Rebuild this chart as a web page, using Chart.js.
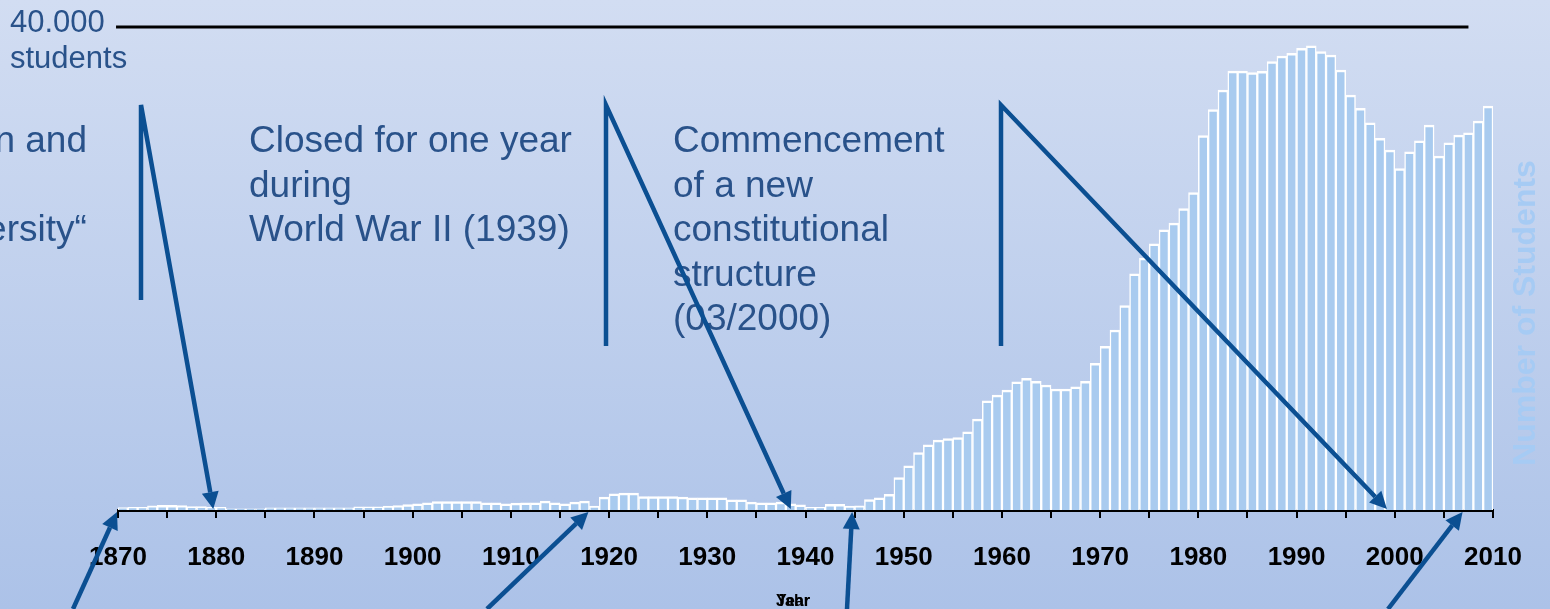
<!DOCTYPE html>
<html>
<head>
<meta charset="utf-8">
<script src="https://cdn.jsdelivr.net/npm/chart.js@4.4.1/dist/chart.umd.min.js"></script>
<style>
  html, body { margin: 0; padding: 0; }
  #wrap { width: 1550px; height: 609px; position: relative; }
</style>
</head>
<body>
<div id="wrap"><canvas id="chart"></canvas></div>
<script>
  // one bar per year, 1870 .. 2009
  const years = [
    1870, 1871, 1872, 1873, 1874, 1875, 1876, 1877, 1878, 1879,
    1880, 1881, 1882, 1883, 1884, 1885, 1886, 1887, 1888, 1889,
    1890, 1891, 1892, 1893, 1894, 1895, 1896, 1897, 1898, 1899,
    1900, 1901, 1902, 1903, 1904, 1905, 1906, 1907, 1908, 1909,
    1910, 1911, 1912, 1913, 1914, 1915, 1916, 1917, 1918, 1919,
    1920, 1921, 1922, 1923, 1924, 1925, 1926, 1927, 1928, 1929,
    1930, 1931, 1932, 1933, 1934, 1935, 1936, 1937, 1938, 1939,
    1940, 1941, 1942, 1943, 1944, 1945, 1946, 1947, 1948, 1949,
    1950, 1951, 1952, 1953, 1954, 1955, 1956, 1957, 1958, 1959,
    1960, 1961, 1962, 1963, 1964, 1965, 1966, 1967, 1968, 1969,
    1970, 1971, 1972, 1973, 1974, 1975, 1976, 1977, 1978, 1979,
    1980, 1981, 1982, 1983, 1984, 1985, 1986, 1987, 1988, 1989,
    1990, 1991, 1992, 1993, 1994, 1995, 1996, 1997, 1998, 1999,
    2000, 2001, 2002, 2003, 2004, 2005, 2006, 2007, 2008, 2009
  ];

  const students = [
    200, 230, 230, 350, 380, 380, 370, 290, 290, 230,
    230, 100, 100, 100, 100, 180, 180, 180, 180, 180,
    180, 180, 180, 180, 265, 265, 265, 320, 370, 450,
    515, 600, 705, 705, 705, 705, 705, 590, 600, 515,
    565, 600, 600, 730, 600, 515, 650, 730, 320, 1060,
    1340, 1400, 1400, 1120, 1120, 1120, 1120, 1060, 1010, 1010,
    1010, 1010, 850, 850, 650, 600, 600, 650, 515, 430,
    230, 230, 460, 460, 320, 350, 870, 1000, 1300, 2680,
    3650, 4760, 5400, 5790, 5920, 6000, 6470, 7530, 9050, 9520,
    9930, 10620, 10900, 10650, 10350, 10020, 10020, 10210, 10650, 12140,
    13560, 14910, 16930, 19560, 20860, 22050, 23210, 23760, 24960, 26290,
    31000, 33170, 34780, 36350, 36350, 36230, 36330, 37130, 37600, 37820,
    38240, 38450, 37960, 37680, 36440, 34360, 33260, 32060, 30770, 29800,
    28280, 29660, 30570, 31870, 29300, 30400, 31040, 31230, 32200, 33450
  ];

  const tickLabelYears = [1870, 1880, 1890, 1900, 1910, 1920, 1930, 1940, 1950, 1960, 1970, 1980, 1990, 2000, 2010];
  const yearMin = 1870;
  const yearMax = 2010;
  const studentsMax = 40000;

  const topNotes = [
    ["Foundation and", "upgrade", "into „University“"],
    ["Closed for one year", "during", "World War II (1939)"],
    ["Commencement", "of a new", "constitutional", "structure", "(03/2000)"]
  ];
  // years the callout arrows point at
  const topArrowYears = [1879.7, 1938.5, 1999.2];
  const bottomArrowYears = [1869.9, 1917.9, 1944.75, 2006.9];

  const FONT = '"Liberation Sans", Arial, Helvetica, sans-serif';
  const calloutColor = "#0B4F92";
  const noteColor = "#29528A";
  const HEAD_LEN = 17;
  const HEAD_HALF = 8.5;

  const drawArrow = (ctx, x0, y0, x1, y1) => {
    const ang = Math.atan2(y1 - y0, x1 - x0);
    const bx = x1 - HEAD_LEN * Math.cos(ang);
    const by = y1 - HEAD_LEN * Math.sin(ang);
    ctx.beginPath();
    ctx.moveTo(x0, y0);
    ctx.lineTo(bx, by);
    ctx.stroke();
    ctx.beginPath();
    ctx.moveTo(x1, y1);
    ctx.lineTo(bx + HEAD_HALF * Math.sin(ang), by - HEAD_HALF * Math.cos(ang));
    ctx.lineTo(bx - HEAD_HALF * Math.sin(ang), by + HEAD_HALF * Math.cos(ang));
    ctx.closePath();
    ctx.fill();
  };

  const backgroundPlugin = {
    id: "bg",
    beforeDraw(chart) {
      const { ctx, width, height } = chart;
      const g = ctx.createLinearGradient(0, 0, 0, height);
      g.addColorStop(0, "#D2DDF2");
      g.addColorStop(1, "#ACC2E8");
      ctx.save();
      ctx.fillStyle = g;
      ctx.fillRect(0, 0, width, height);
      ctx.restore();
    }
  };

  const notesPlugin = {
    id: "notes",
    afterDraw(chart) {
      const { ctx } = chart;
      const xs = chart.scales.x;
      const ys = chart.scales.y;
      ctx.save();

      // top reference line at 40.000
      const yTop = ys.getPixelForValue(studentsMax);
      ctx.strokeStyle = "#000";
      ctx.lineWidth = 3;
      ctx.beginPath();
      ctx.moveTo(xs.getPixelForValue(1869.8), yTop);
      ctx.lineTo(xs.getPixelForValue(2007.5), yTop);
      ctx.stroke();

      ctx.fillStyle = noteColor;
      ctx.textBaseline = "alphabetic";
      ctx.textAlign = "left";
      ctx.font = `31px ${FONT}`;
      ctx.fillText("40.000", 10, 32);
      ctx.fillText("students", 10, 68);

      // note texts
      ctx.font = `37px ${FONT}`;
      const first = topNotes[0];
      const x0 = 87 - ctx.measureText(first[0]).width;
      const noteX = [x0, 249, 673];
      topNotes.forEach((lines, n) => {
        lines.forEach((line, i) => ctx.fillText(line, noteX[n], 152 + i * 44.5));
      });

      // callouts
      ctx.strokeStyle = calloutColor;
      ctx.fillStyle = calloutColor;
      ctx.lineWidth = 4.5;
      ctx.lineJoin = "miter";
      const base = ys.getPixelForValue(0);
      const barX = [141, 606, 1001];
      const barBottom = [300, 346, 346];
      topArrowYears.forEach((yr, i) => {
        const tx = xs.getPixelForValue(yr);
        const ty = base - 1;
        const ang = Math.atan2(ty - 105, tx - barX[i]);
        const bx = tx - HEAD_LEN * Math.cos(ang);
        const by = ty - HEAD_LEN * Math.sin(ang);
        ctx.beginPath();
        ctx.moveTo(barX[i], barBottom[i]);
        ctx.lineTo(barX[i], 105);
        ctx.lineTo(bx, by);
        ctx.stroke();
        drawArrow(ctx, bx, by, tx, ty);
      });

      const bottomFromX = [73, 487, 847, 1388];
      bottomArrowYears.forEach((yr, i) => {
        drawArrow(ctx, bottomFromX[i], 609, xs.getPixelForValue(yr), base + 2);
      });

      // right axis title
      ctx.save();
      ctx.translate(1526, 313);
      ctx.rotate(-Math.PI / 2);
      ctx.textAlign = "center";
      ctx.textBaseline = "middle";
      ctx.fillStyle = "#A6CBF4";
      ctx.font = `bold 32px ${FONT}`;
      ctx.fillText("Number of Students", 0, 0);
      ctx.restore();

      // x axis title (two labels printed on top of each other)
      ctx.textAlign = "center";
      ctx.fillStyle = "#000";
      ctx.font = `bold 16px ${FONT}`;
      ctx.fillText("Year", 793, 606);
      ctx.fillText("Jahr", 793, 606);

      ctx.restore();
    }
  };

  new Chart(document.getElementById("chart"), {
    type: "bar",
    data: {
      datasets: [{
        label: "Number of Students",
        data: years.map((yr, i) => ({ x: yr + 0.5, y: students[i] })),
        backgroundColor: "#A9CBEF",
        borderColor: "#FFFFFF",
        borderWidth: { top: 2.5, left: 1.5, right: 1.5, bottom: 0 },
        barPercentage: 1,
        categoryPercentage: 1
      }]
    },
    options: {
      responsive: true,
      maintainAspectRatio: false,
      animation: false,
      layout: { padding: { left: 118, right: 57, top: 27, bottom: 0 } },
      plugins: { legend: { display: false }, tooltip: { enabled: false } },
      scales: {
        x: {
          type: "linear",
          min: yearMin,
          max: yearMax,
          offset: false,
          grid: { offset: false, drawOnChartArea: false, drawTicks: true, tickLength: 8, color: "#000", lineWidth: 2 },
          border: { display: true, color: "#000", width: 3 },
          ticks: {
            stepSize: 5,
            autoSkip: false,
            maxRotation: 0,
            padding: 24,
            color: "#000",
            font: { family: FONT, size: 26, weight: "bold" },
            callback: (v) => (tickLabelYears.includes(v) ? String(v) : "")
          },
          afterFit: (scale) => { scale.height = 99; }
        },
        y: { display: false, min: 0, max: studentsMax }
      }
    },
    plugins: [backgroundPlugin, notesPlugin]
  });
</script>
</body>
</html>
